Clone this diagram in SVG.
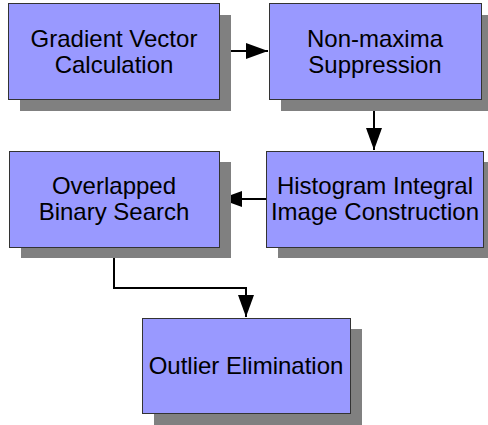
<svg xmlns="http://www.w3.org/2000/svg" width="488" height="425" viewBox="0 0 488 425">
<defs>
<style>
.shadow{fill:#808080;stroke:none}
.box{fill:#9999ff;stroke:#333333;stroke-width:1}
.lbl{font-family:"Liberation Sans",Arial,sans-serif;font-size:24px;fill:#000;text-anchor:middle}
.conn{fill:none;stroke:#000;stroke-width:2}
</style>
<marker id="arr" markerWidth="22" markerHeight="16" refX="22" refY="8" orient="auto" markerUnits="userSpaceOnUse">
<path d="M0,0 L22,8 L0,16 Z" fill="#000"/>
</marker>
</defs>
<g id="connectors">
<path class="conn" d="M219,51 L268,51" marker-end="url(#arr)"/>
<path class="conn" d="M374,99 L374,150" marker-end="url(#arr)"/>
<path class="conn" d="M266,199 L220,199" marker-end="url(#arr)"/>
<path class="conn" d="M114,247 L114,288 L246,288 L246,317" marker-end="url(#arr)"/>
</g>
<g id="node-gradient">
<rect class="shadow" x="20" y="15" width="211" height="96"/>
<rect class="box" x="8.5" y="3.5" width="211" height="96"/>
<text class="lbl" x="114" y="47">Gradient Vector</text>
<text class="lbl" x="114" y="73">Calculation</text>
</g>
<g id="node-nonmax">
<rect class="shadow" x="281" y="15" width="212" height="96"/>
<rect class="box" x="269.5" y="3.5" width="212" height="96"/>
<text class="lbl" x="375" y="47">Non-maxima</text>
<text class="lbl" x="375" y="73">Suppression</text>
</g>
<g id="node-overlapped">
<rect class="shadow" x="21" y="162" width="210" height="96"/>
<rect class="box" x="9.5" y="151.5" width="210" height="96"/>
<text class="lbl" x="114" y="194">Overlapped</text>
<text class="lbl" x="114" y="220">Binary Search</text>
</g>
<g id="node-histogram">
<rect class="shadow" x="278" y="162" width="217" height="96"/>
<rect class="box" x="266.5" y="151.5" width="217" height="96"/>
<text class="lbl" x="375" y="194">Histogram Integral</text>
<text class="lbl" x="375" y="220">Image Construction</text>
</g>
<g id="node-outlier">
<rect class="shadow" x="154" y="329" width="208" height="96"/>
<rect class="box" x="142.5" y="318.5" width="208" height="95"/>
<text class="lbl" x="246" y="374">Outlier Elimination</text>
</g>
</svg>
